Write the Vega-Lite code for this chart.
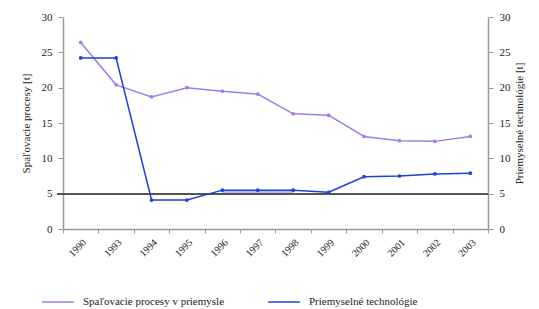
{
  "$schema": "https://vega.github.io/schema/vega-lite/v6.json",
  "width": 425,
  "height": 212,
  "autosize": "none",
  "padding": {"left": 63, "top": 17, "right": 51, "bottom": 80},
  "background": "white",
  "config": {
    "view": {"stroke": null},
    "font": "Liberation Serif, DejaVu Serif, serif",
    "axis": {"labelFont": "Liberation Serif, DejaVu Serif, serif", "titleFont": "Liberation Serif, DejaVu Serif, serif", "labelColor": "#222", "titleColor": "#222", "labelFontSize": 11, "titleFontSize": 11, "titleFontWeight": "normal", "domainColor": "#999", "tickColor": "#999", "grid": false},
    "legend": {"labelFont": "Liberation Serif, DejaVu Serif, serif", "labelFontSize": 11, "labelColor": "#222"}
  },
  "data": {"values": [
    {"year": "1990", "series": "Spaľovacie procesy v priemysle", "value": 26.4},
    {"year": "1993", "series": "Spaľovacie procesy v priemysle", "value": 20.4},
    {"year": "1994", "series": "Spaľovacie procesy v priemysle", "value": 18.7},
    {"year": "1995", "series": "Spaľovacie procesy v priemysle", "value": 20.0},
    {"year": "1996", "series": "Spaľovacie procesy v priemysle", "value": 19.5},
    {"year": "1997", "series": "Spaľovacie procesy v priemysle", "value": 19.1},
    {"year": "1998", "series": "Spaľovacie procesy v priemysle", "value": 16.3},
    {"year": "1999", "series": "Spaľovacie procesy v priemysle", "value": 16.1},
    {"year": "2000", "series": "Spaľovacie procesy v priemysle", "value": 13.1},
    {"year": "2001", "series": "Spaľovacie procesy v priemysle", "value": 12.5},
    {"year": "2002", "series": "Spaľovacie procesy v priemysle", "value": 12.4},
    {"year": "2003", "series": "Spaľovacie procesy v priemysle", "value": 13.1},
    {"year": "1990", "series": "Priemyselné technológie", "value": 24.2},
    {"year": "1993", "series": "Priemyselné technológie", "value": 24.2},
    {"year": "1994", "series": "Priemyselné technológie", "value": 4.1},
    {"year": "1995", "series": "Priemyselné technológie", "value": 4.1},
    {"year": "1996", "series": "Priemyselné technológie", "value": 5.5},
    {"year": "1997", "series": "Priemyselné technológie", "value": 5.5},
    {"year": "1998", "series": "Priemyselné technológie", "value": 5.5},
    {"year": "1999", "series": "Priemyselné technológie", "value": 5.2},
    {"year": "2000", "series": "Priemyselné technológie", "value": 7.4},
    {"year": "2001", "series": "Priemyselné technológie", "value": 7.5},
    {"year": "2002", "series": "Priemyselné technológie", "value": 7.8},
    {"year": "2003", "series": "Priemyselné technológie", "value": 7.9}
  ]},
  "encoding": {
    "x": {
      "field": "year", "type": "ordinal", "bandPosition": 0.5,
      "scale": {"type": "band", "paddingInner": 0, "paddingOuter": 0},
      "axis": {"title": null, "labelAngle": -45, "tickBand": "extent", "labelPadding": 4, "tickSize": 4, "domainWidth": 1.5, "labelFontSize": 10}
    }
  },
  "layer": [
    {
      "encoding": {
        "y": {"type": "quantitative", "scale": {"domain": [0, 30]}, "title": "Spaľovacie procesy [t]",
          "axis": {"values": [0, 5, 10, 15, 20, 25, 30], "tickSize": 5, "labelPadding": 6, "titlePadding": 10, "domainWidth": 1.5, "titleAngle": 270}}
      },
      "layer": [
        {
          "transform": [{"filter": "datum.series == 'Priemyselné technológie' && (datum.year == '1996' || datum.year == '1997' || datum.year == '1998')"}],
          "mark": {"type": "area", "color": "#b8bff2", "opacity": 1},
          "encoding": {
            "y": {"field": "value", "type": "quantitative", "scale": {"domain": [0, 30]}, "title": "Spaľovacie procesy [t]",
              "axis": {"values": [0, 5, 10, 15, 20, 25, 30], "tickSize": 5, "labelPadding": 6, "titlePadding": 10, "domainWidth": 1.5, "titleAngle": 270}},
            "y2": {"datum": 5}
          }
        },
        {
          "mark": {"type": "rule", "color": "#555", "strokeWidth": 1.5},
          "encoding": {
            "y": {"datum": 5, "type": "quantitative", "scale": {"domain": [0, 30]}, "title": "Spaľovacie procesy [t]",
              "axis": {"values": [0, 5, 10, 15, 20, 25, 30], "tickSize": 5, "labelPadding": 6, "titlePadding": 10, "domainWidth": 1.5, "titleAngle": 270}},
            "x": {"value": -6},
            "x2": {"value": 425}
          }
        },
        {
          "mark": {"type": "line", "strokeWidth": 1.5, "point": {"filled": true, "size": 14}},
          "encoding": {
            "y": {"field": "value", "type": "quantitative", "scale": {"domain": [0, 30]}, "title": "Spaľovacie procesy [t]",
              "axis": {"values": [0, 5, 10, 15, 20, 25, 30], "tickSize": 5, "labelPadding": 6, "titlePadding": 10, "domainWidth": 1.5, "titleAngle": 270}},
            "color": {
              "field": "series", "type": "nominal",
              "sort": ["Spaľovacie procesy v priemysle", "Priemyselné technológie"],
              "scale": {"domain": ["Spaľovacie procesy v priemysle", "Priemyselné technológie"], "range": ["#a47af2", "#1f3fdc"]},
              "legend": {"title": null, "orient": "none", "direction": "horizontal", "legendX": -22, "legendY": 268, "symbolType": "stroke", "symbolSize": 1000, "symbolStrokeWidth": 1.5, "columnPadding": 40, "labelOffset": 8}
            }
          }
        }
      ]
    },
    {
      "mark": {"type": "point", "opacity": 0},
      "encoding": {
        "y": {"field": "value", "type": "quantitative", "scale": {"domain": [0, 30]},
          "axis": {"orient": "right", "title": "Priemyselné technológie [t]", "titleAngle": 270, "values": [0, 5, 10, 15, 20, 25, 30], "tickSize": 5, "labelPadding": 6, "titlePadding": 14, "domainWidth": 1.5}}
      }
    }
  ],
  "resolve": {"scale": {"y": "independent"}, "axis": {"y": "independent"}}
}
